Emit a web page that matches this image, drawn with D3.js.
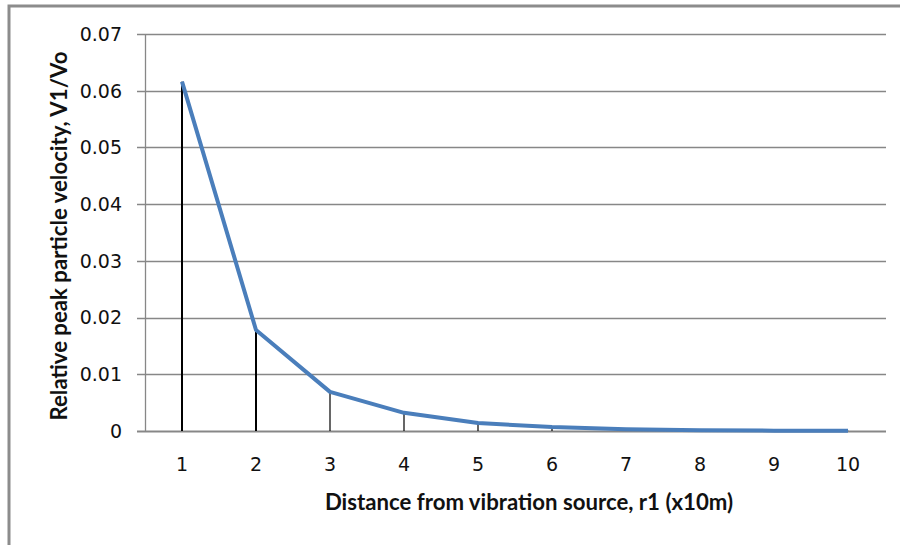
<!DOCTYPE html>
<html><head><meta charset="utf-8">
<script src="https://cdn.jsdelivr.net/npm/d3@7"></script>
<style>html,body{margin:0;padding:0;background:#fff;}svg{display:block;}</style>
</head><body>
<svg id="c" width="900" height="545"></svg>
<script>
const categories = ["1","2","3","4","5","6","7","8","9","10"];
const values = [0.0616, 0.0178, 0.0069, 0.0032, 0.0014, 0.0007, 0.0003, 0.00012, 0.00006, 0.00003];
const yTicks = [0, 0.01, 0.02, 0.03, 0.04, 0.05, 0.06, 0.07];
const yTickLabels = ["0", "0.01", "0.02", "0.03", "0.04", "0.05", "0.06", "0.07"];
const xTitle = "Distance from vibration source, r1 (x10m)";
const yTitle = "Relative peak particle velocity, V1/Vo";

const svg = d3.select("#c");
const L = 145, R = 885, T = 34, B = 431;

svg.append("rect").attr("x", 9).attr("y", 6).attr("width", 1000).attr("height", 1000)
  .attr("fill", "none").attr("stroke", "#8c8c8c").attr("stroke-width", 3);

const x = d3.scaleBand().domain(categories).range([L, R]);
const y = d3.scaleLinear().domain([0, 0.07]).range([B, T]);

// gridlines
svg.append("g").selectAll("line").data(yTicks).join("line")
  .attr("x1", L - 8).attr("x2", R + 1)
  .attr("y1", d => Math.round(y(d)) + 0.5).attr("y2", d => Math.round(y(d)) + 0.5)
  .attr("stroke", "#878787").attr("stroke-width", d => d === 0 ? 2 : 1.3);

// y axis line
svg.append("line").attr("x1", L + 0.5).attr("x2", L + 0.5).attr("y1", T).attr("y2", B)
  .attr("stroke", "#878787").attr("stroke-width", 1.3);

// y tick labels
svg.append("g").selectAll("text").data(yTicks).join("text")
  .attr("x", 122).attr("y", d => y(d)).attr("dy", "0.36em")
  .attr("text-anchor", "end")
  .attr("font-family", "DejaVu Sans").attr("font-size", 19).attr("fill", "#111")
  .text((d, i) => yTickLabels[i]);

// x tick labels
svg.append("g").selectAll("text").data(categories).join("text")
  .attr("x", d => x(d) + x.bandwidth() / 2).attr("y", 471)
  .attr("text-anchor", "middle")
  .attr("font-family", "DejaVu Sans").attr("font-size", 19).attr("fill", "#111")
  .text(d => d);

// drop lines
svg.append("g").selectAll("line").data(values).join("line")
  .attr("x1", (d, i) => x(categories[i]) + x.bandwidth() / 2)
  .attr("x2", (d, i) => x(categories[i]) + x.bandwidth() / 2)
  .attr("y1", d => y(d)).attr("y2", B)
  .attr("stroke", "#000").attr("stroke-width", (d, i) => i < 2 ? 2 : 1.2);

// line
const line = d3.line()
  .x((d, i) => x(categories[i]) + x.bandwidth() / 2)
  .y(d => y(d));
svg.append("path").datum(values).attr("d", line)
  .attr("fill", "none").attr("stroke", "#4a7ebb").attr("stroke-width", 4)
  .attr("stroke-linejoin", "round");

// axis titles
svg.append("text").attr("x", 529).attr("y", 510).attr("text-anchor", "middle")
  .attr("font-family", "Lato").attr("font-weight", "bold").attr("font-size", 22.2).attr("fill", "#111")
  .text(xTitle);
svg.append("text").attr("transform", "translate(67,236) rotate(-90)").attr("text-anchor", "middle")
  .attr("font-family", "Lato").attr("font-weight", "bold").attr("font-size", 22.2).attr("fill", "#111")
  .text(yTitle);
</script>
</body></html>
